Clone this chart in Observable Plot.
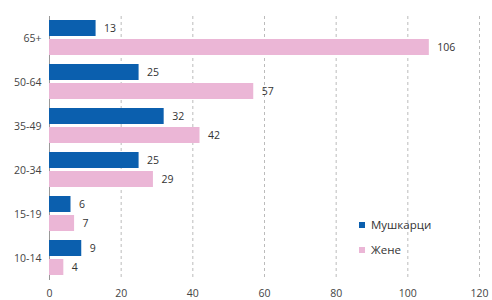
<!DOCTYPE html>
<html>
<head>
<meta charset="utf-8">
<script src="https://cdn.jsdelivr.net/npm/d3@7"></script>
<script src="https://cdn.jsdelivr.net/npm/@observablehq/plot@0.6"></script>
<style>
  html, body { margin: 0; padding: 0; background: #fff; }
  #wrap { position: relative; width: 492px; height: 300px; font-family: "Open Sans", sans-serif; }
  .legend { position: absolute; left: 359px; top: 212px; font-size: 11.5px; color: #333; line-height: 25px; }
  .legend .sw { display: inline-block; width: 6px; height: 6px; margin-right: 6px; vertical-align: middle; position: relative; top: -1px; }
</style>
</head>
<body>
<div id="wrap"></div>
<script>
const ageGroups = ["65+", "50-64", "35-49", "20-34", "15-19", "10-14"];
const men = [13, 25, 32, 25, 6, 9];
const women = [106, 57, 42, 29, 7, 4];
const seriesNames = ["Мушкарци", "Жене"];
const seriesColors = ["#0b5fae", "#ebb6d6"];
const xTicks = [0, 20, 40, 60, 80, 100, 120];

const menData = ageGroups.map((a, i) => ({age: a, value: men[i]}));
const womenData = ageGroups.map((a, i) => ({age: a, value: women[i]}));

const font = "Open Sans, sans-serif";
const chart = Plot.plot({
  width: 492,
  height: 300,
  marginTop: 16,
  marginBottom: 20,
  marginLeft: 49,
  marginRight: 13,
  style: {fontFamily: font, fontSize: "10.5px", color: "#444", background: "#fff"},
  x: {domain: [0, 120], ticks: xTicks, label: null},
  y: {domain: ageGroups, padding: 0, label: null},
  marks: [
    Plot.ruleX(xTicks.filter(d => d > 0), {stroke: "#bbb", strokeDasharray: "3,3", strokeWidth: 1}),
    Plot.ruleX([0], {stroke: "#999", strokeWidth: 1}),
    Plot.barX(menData, {x: "value", y: "age", fill: seriesColors[0], insetTop: 4, insetBottom: 24}),
    Plot.barX(womenData, {x: "value", y: "age", fill: seriesColors[1], insetTop: 23, insetBottom: 5}),
    Plot.text(menData, {x: "value", y: "age", text: d => String(d.value), dx: 8, dy: -10, textAnchor: "start", fill: "#333", fontSize: 10.5}),
    Plot.text(womenData, {x: "value", y: "age", text: d => String(d.value), dx: 8, dy: 9, textAnchor: "start", fill: "#333", fontSize: 10.5}),
    Plot.axisX({ticks: xTicks, tickSize: 0, tickPadding: 9, fill: "#444", fontSize: 10.5}),
    Plot.axisY({tickSize: 0, tickPadding: 8, fill: "#444", fontSize: 10.5})
  ]
});
const wrap = document.getElementById("wrap");
wrap.appendChild(chart);
const lg = document.createElement("div");
lg.className = "legend";
lg.innerHTML = seriesNames.map((n, i) => `<div><span class="sw" style="background:${seriesColors[i]}"></span>${n}</div>`).join("");
wrap.appendChild(lg);
</script>
</body>
</html>
